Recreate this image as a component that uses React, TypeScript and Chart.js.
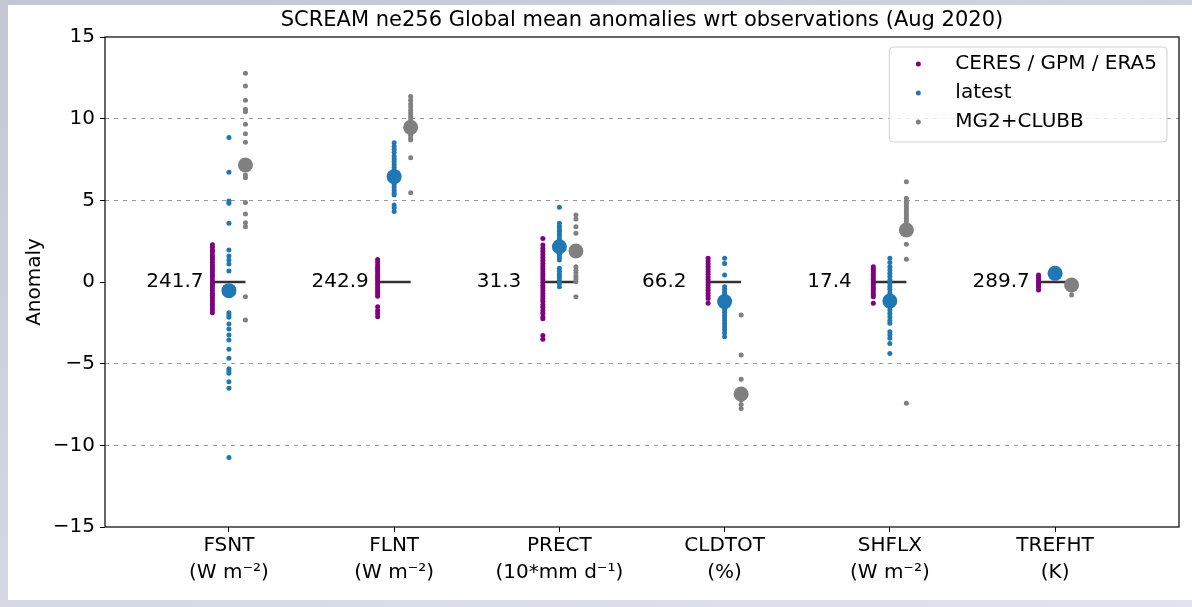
import React, { useEffect, useRef } from 'react';
import { Chart, registerables } from 'chart.js';

Chart.register(...registerables);

const chartTitle = 'SCREAM ne256 Global mean anomalies wrt observations (Aug 2020)';
const yAxisTitle = 'Anomaly';
const categories: string[][] = [
  ['FSNT', '(W m\u207B\u00B2)'],
  ['FLNT', '(W m\u207B\u00B2)'],
  ['PRECT', '(10*mm d\u207B\u00B9)'],
  ['CLDTOT', '(%)'],
  ['SHFLX', '(W m\u207B\u00B2)'],
  ['TREFHT', '(K)'],
];
const obsReference = ['241.7', '242.9', '31.3', '66.2', '17.4', '289.7'];
const seriesNames = ['CERES / GPM / ERA5', 'latest', 'MG2+CLUBB'];
const seriesColors = ['#800080', '#1f77b4', '#808080'];
const yTickValues = [-15, -10, -5, 0, 5, 10, 15];
const gridValues = [-10, -5, 5, 10];

const obsPoints: number[][] = [
  [2.28, 2.12, 1.95, 1.83, 1.66, 1.52, 1.38, 1.21, 1.04, 0.92, 0.77, 0.61, 0.44, 0.31, 0.12, -0.08, -0.21, -0.37, -0.52, -0.69, -0.81, -0.97, -1.12, -1.28, -1.41, -1.57, -1.72, -1.88],
  [1.38, 1.22, 1.05, 0.91, 0.78, 0.63, 0.49, 0.35, 0.21, 0.08, -0.06, -0.18, -0.33, -0.47, -0.61, -0.74, -0.88, -1.52, -1.75, -1.93, -2.12],
  [2.67, 2.27, 2.05, 1.86, 1.68, 1.5, 1.31, 1.14, 0.95, 0.8, 0.63, 0.47, 0.3, 0.15, -0.02, -0.2, -0.35, -0.52, -0.7, -0.86, -1.03, -1.2, -1.39, -1.55, -1.74, -1.92, -2.12, -2.25, -3.28, -3.5],
  [1.45, 1.28, 1.12, 0.95, 0.8, 0.63, 0.48, 0.31, 0.15, -0.02, -0.18, -0.35, -0.51, -0.68, -0.84, -1.01, -1.3],
  [0.94, 0.78, 0.62, 0.47, 0.31, 0.16, 0.01, -0.14, -0.3, -0.45, -0.61, -0.77, -0.9, -1.3],
  [0.43, 0.3, 0.18, 0.05, -0.08, -0.2, -0.33, -0.49],
];

const latestPoints: number[][] = [
  [8.84, 6.72, 4.96, 4.82, 3.59, 1.96, 1.59, 1.35, 1.1, 0.67, -1.88, -2.02, -2.16, -2.57, -2.88, -3.25, -3.55, -4.12, -4.67, -5.31, -5.45, -5.59, -6.1, -6.51, -10.74],
  [8.52, 8.31, 8.12, 7.93, 7.71, 7.55, 7.38, 7.2, 7.02, 6.86, 6.7, 6.31, 6.12, 5.95, 5.78, 5.6, 5.45, 5.33, 4.72, 4.55, 4.31],
  [4.57, 3.59, 3.41, 3.25, 3.1, 2.96, 2.81, 2.65, 2.5, 1.84, 1.68, 1.52, 1.35, 0.84, 0.66, 0.48, 0.3, 0.12, -0.08, -0.29],
  [1.45, 1.14, 0.43, -0.29, -0.45, -0.62, -0.78, -0.95, -1.5, -1.68, -1.85, -2.03, -2.2, -2.38, -2.56, -2.74, -2.93, -3.12, -3.35],
  [1.45, 1.2, 0.94, 0.73, 0.52, 0.33, 0.12, -0.08, -0.27, -0.46, -0.68, -1.51, -1.72, -1.93, -2.14, -2.35, -2.53, -3.04, -3.25, -3.45, -3.76, -4.37],
  [0.58, 0.5, 0.45],
];
const latestMeans = [-0.53, 6.45, 2.16, -1.2, -1.16, 0.53];

const modelPoints: number[][] = [
  [12.78, 12.0, 11.13, 10.58, 10.43, 9.66, 9.08, 8.55, 6.55, 6.39, 4.86, 4.16, 3.63, 3.39, -0.9, -2.33],
  [11.35, 11.12, 10.9, 10.71, 10.52, 10.33, 10.15, 9.98, 9.8, 9.62, 9.3, 9.14, 8.98, 8.82, 8.7, 7.61, 5.47],
  [4.1, 3.85, 3.39, 2.98, 0.94, 0.72, 0.55, 0.35, 0.18, 0.02, -0.9],
  [-2.02, -4.47, -5.96, -7.23, -7.5, -7.74],
  [6.14, 5.12, 4.95, 4.8, 4.65, 4.5, 4.35, 4.2, 4.05, 3.9, 3.75, 3.59, 2.31, 1.39, -7.43],
  [-0.15, -0.3, -0.5, -0.8],
];
const modelMeans = [7.16, 9.47, 1.9, -6.86, 3.18, -0.18];

const FONT = '"DejaVu Sans", sans-serif';
const FS = 20;

function strip(groups: number[][], offset: number) {
  return groups.flatMap((vals, i) => vals.map((v) => ({ x: i + offset, y: v })));
}
function means(vals: number[], offset: number) {
  return vals.map((v, i) => ({ x: i + offset, y: v }));
}

const decorPlugin = {
  id: 'decor',
  afterDatasetsDraw(chart: any) {
    const { ctx, chartArea, scales } = chart;
    const xs = scales.x;
    const ys = scales.y;
    ctx.save();
    // reference values
    ctx.font = `${FS}px ${FONT}`;
    ctx.fillStyle = '#000';
    ctx.textAlign = 'left';
    ctx.textBaseline = 'middle';
    obsReference.forEach((t, i) => {
      ctx.fillText(t, xs.getPixelForValue(i - 0.5), ys.getPixelForValue(0));
    });
    // frame
    ctx.strokeStyle = '#000';
    ctx.lineWidth = 1.2;
    ctx.strokeRect(chartArea.left, chartArea.top, chartArea.right - chartArea.left, chartArea.bottom - chartArea.top);
    // legend
    const widths = seriesNames.map((n) => ctx.measureText(n).width);
    const maxW = Math.max(...widths);
    const w = 66 + maxW + 10;
    const h = 95;
    const lx = chartArea.right - 12 - w;
    const ly = chartArea.top + 10;
    ctx.beginPath();
    const r = 4;
    ctx.moveTo(lx + r, ly);
    ctx.arcTo(lx + w, ly, lx + w, ly + h, r);
    ctx.arcTo(lx + w, ly + h, lx, ly + h, r);
    ctx.arcTo(lx, ly + h, lx, ly, r);
    ctx.arcTo(lx, ly, lx + w, ly, r);
    ctx.closePath();
    ctx.fillStyle = 'rgba(255,255,255,0.8)';
    ctx.fill();
    ctx.strokeStyle = '#d0d0d0';
    ctx.lineWidth = 1;
    ctx.stroke();
    seriesNames.forEach((n, k) => {
      const ry = ly + 17 + k * 29;
      ctx.beginPath();
      ctx.arc(lx + 29, ry, 2.5, 0, Math.PI * 2);
      ctx.fillStyle = seriesColors[k];
      ctx.fill();
      ctx.fillStyle = '#000';
      ctx.textAlign = 'left';
      ctx.textBaseline = 'middle';
      ctx.fillText(n, lx + 66, ry);
    });
    // title
    ctx.font = `21px ${FONT}`;
    ctx.textAlign = 'center';
    ctx.textBaseline = 'middle';
    ctx.fillText(chartTitle, (chartArea.left + chartArea.right) / 2, 16);
    ctx.restore();
  },
};

export default function App() {
  const ref = useRef<HTMLCanvasElement | null>(null);
  useEffect(() => {
    if (!ref.current) return;
    Chart.defaults.font.family = FONT;
    Chart.defaults.font.size = FS;
    Chart.defaults.color = '#000';
    const zeroLines = categories.map((_, i) => ({
      type: 'line' as const,
      label: 'zero' + i,
      data: [
        { x: i - 0.1, y: 0 },
        { x: i + 0.1, y: 0 },
      ],
      showLine: true,
      borderColor: '#333',
      borderWidth: 2.5,
      pointRadius: 0,
      order: 3,
    }));
    const chart = new Chart(ref.current, {
      type: 'scatter',
      data: {
        datasets: [
          { label: seriesNames[1] + ' mean', data: means(latestMeans, 0), backgroundColor: seriesColors[1], borderWidth: 0, pointRadius: 7.5, order: 0 },
          { label: seriesNames[2] + ' mean', data: means(modelMeans, 0.1), backgroundColor: seriesColors[2], borderWidth: 0, pointRadius: 7.5, order: 0 },
          { label: seriesNames[0], data: strip(obsPoints, -0.1), backgroundColor: seriesColors[0], borderWidth: 0, pointRadius: 2.5, order: 1 },
          { label: seriesNames[1], data: strip(latestPoints, 0), backgroundColor: seriesColors[1], borderWidth: 0, pointRadius: 2.5, order: 1 },
          { label: seriesNames[2], data: strip(modelPoints, 0.1), backgroundColor: seriesColors[2], borderWidth: 0, pointRadius: 2.5, order: 1 },
          ...zeroLines,
        ] as any,
      },
      options: {
        animation: false,
        responsive: false,
        devicePixelRatio: 1,
        layout: { padding: { top: 32, right: 13, bottom: 0, left: 0 } },
        plugins: { legend: { display: false }, title: { display: false }, tooltip: { enabled: false } },
        scales: {
          x: {
            type: 'linear',
            min: -0.75,
            max: 5.75,
            afterFit: (s: any) => { s.height = 73; },
            afterBuildTicks: (s: any) => { s.ticks = categories.map((_, i) => ({ value: i })); },
            ticks: {
              autoSkip: false,
              maxRotation: 0,
              padding: 0,
              font: { size: FS, lineHeight: 1.35 },
              callback: (v: any) => categories[Math.round(Number(v))] || '',
            },
            grid: { drawOnChartArea: false, drawTicks: true, tickLength: 5, tickColor: '#000', tickWidth: 1 },
            border: { display: false },
          },
          y: {
            type: 'linear',
            min: -15,
            max: 15,
            afterFit: (s: any) => { s.width = 97; },
            afterBuildTicks: (s: any) => { s.ticks = yTickValues.map((v) => ({ value: v })); },
            ticks: {
              padding: 5,
              callback: (v: any) => (Number(v) < 0 ? '\u2212' + Math.abs(Number(v)) : String(v)),
            },
            title: { display: true, text: yAxisTitle, padding: { top: 15, bottom: 0 }, font: { size: FS } },
            grid: {
              color: (c: any) => (c.tick && gridValues.includes(c.tick.value) ? '#9a9a9a' : 'rgba(0,0,0,0)'),
              lineWidth: 1,
              drawTicks: true,
              tickLength: 5,
              tickColor: '#000',
              tickWidth: 1,
              tickBorderDash: [],
            },
            border: { display: false, dash: [4, 5] },
          },
        },
      },
      plugins: [decorPlugin],
    });
    return () => chart.destroy();
  }, []);
  return (
    <div style={{ position: 'fixed', inset: 0, background: 'linear-gradient(160deg, #c4c6d6 0%, #d6d8e4 60%, #e2e3ec 100%)' }}>
      <div style={{ position: 'absolute', left: 8, top: 5, width: 1184, height: 595, background: '#fff' }}>
        <canvas ref={ref} width={1184} height={595} style={{ width: 1184, height: 595, display: 'block' }} />
      </div>
    </div>
  );
}
